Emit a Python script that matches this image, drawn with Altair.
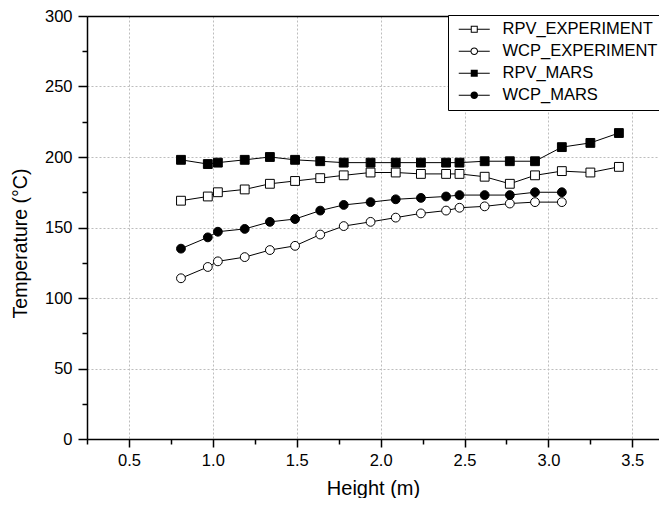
import altair as alt
import pandas as pd

# ---- data ----
series_order = ["RPV_EXPERIMENT", "WCP_EXPERIMENT", "RPV_MARS", "WCP_MARS"]

height_rpv = [0.81, 0.97, 1.03, 1.19, 1.34, 1.49, 1.64, 1.78, 1.94, 2.09,
              2.24, 2.39, 2.47, 2.62, 2.77, 2.92, 3.08, 3.25, 3.42]
rpv_experiment = [169, 172, 175, 177, 181, 183, 185, 187, 189, 189,
                  188, 188, 188, 186, 181, 187, 190, 189, 193]
rpv_mars = [198, 195, 196, 198, 200, 198, 197, 196, 196, 196,
            196, 196, 196, 197, 197, 197, 207, 210, 217]

height_wcp = [0.81, 0.97, 1.03, 1.19, 1.34, 1.49, 1.64, 1.78, 1.94, 2.09,
              2.24, 2.39, 2.47, 2.62, 2.77, 2.92, 3.08]
wcp_experiment = [114, 122, 126, 129, 134, 137, 145, 151, 154, 157,
                  160, 162, 164, 165, 167, 168, 168]
wcp_mars = [135, 143, 147, 149, 154, 156, 162, 166, 168, 170,
            171, 172, 173, 173, 173, 175, 175]

x_major = [0.5, 1.0, 1.5, 2.0, 2.5, 3.0, 3.5]
x_minor = [0.25, 0.75, 1.25, 1.75, 2.25, 2.75, 3.25]
y_major = [0, 50, 100, 150, 200, 250, 300]
y_minor = [25, 75, 125, 175, 225, 275]

rows = []
for name, xs, ys in [
    ("RPV_EXPERIMENT", height_rpv, rpv_experiment),
    ("WCP_EXPERIMENT", height_wcp, wcp_experiment),
    ("RPV_MARS", height_rpv, rpv_mars),
    ("WCP_MARS", height_wcp, wcp_mars),
]:
    for xv, yv in zip(xs, ys):
        rows.append({"series": name, "height": xv, "temp": yv})
df = pd.DataFrame(rows)

FONT = "Liberation Sans"

x_scale = alt.Scale(domain=[0.25, 3.659], nice=False, zero=False)
y_scale = alt.Scale(domain=[0, 300], nice=False, zero=False)

plain_shapes = ["square", "circle", "square", "circle"]
fills = ["white", "white", "black", "black"]

# legend glyphs "—□—", "—○—", "—■—", "—●—" drawn as filled paths (1 unit = 1 px at size 4)
sq_lines = "M-15.5,-0.6H-3.5V0.6H-15.5ZM3.5,-0.6H15.5V0.6H3.5Z"
ci_lines = "M-15.5,-0.6H-3.8V0.6H-15.5ZM3.8,-0.6H15.5V0.6H3.8Z"
open_sq = "M-3.5,-3.5H3.5V3.5H-3.5ZM-2.5,-2.5V2.5H2.5V-2.5Z"
full_sq = "M-3.5,-3.5H3.5V3.5H-3.5Z"
open_ci = "M3.8,0A3.8,3.8,0,1,1,-3.8,0A3.8,3.8,0,1,1,3.8,0ZM2.8,0A2.8,2.8,0,1,0,-2.8,0A2.8,2.8,0,1,0,2.8,0Z"
full_ci = "M3.8,0A3.8,3.8,0,1,1,-3.8,0A3.8,3.8,0,1,1,3.8,0Z"
legend_shapes = [sq_lines + open_sq, ci_lines + open_ci,
                 sq_lines + full_sq, ci_lines + full_ci]

base = alt.Chart(df)

lines = base.mark_line(color="black", strokeWidth=1).encode(
    x=alt.X("height:Q", scale=x_scale,
            axis=alt.Axis(orient="bottom", values=x_major, format=".1f",
                          title="Height (m)", titleFont=FONT, titleFontSize=20,
                          titleFontWeight="normal", titleColor="black", titlePadding=10,
                          labelFont=FONT, labelFontSize=16.5, labelColor="black",
                          labelPadding=5, tickSize=8, tickWidth=1.5, tickColor="black",
                          domainColor="black", domainWidth=1.5,
                          grid=True, gridDash=[2, 2], gridColor="#bdbdbd", gridWidth=1)),
    y=alt.Y("temp:Q", scale=y_scale,
            axis=alt.Axis(orient="left", values=y_major, format="d",
                          title="Temperature (°C)", titleFont=FONT, titleFontSize=19.5,
                          titleFontWeight="normal", titleColor="black", titlePadding=14,
                          titleY=227,
                          labelFont=FONT, labelFontSize=16.5, labelColor="black",
                          labelPadding=6, tickSize=9, tickWidth=1.5, tickColor="black",
                          domainColor="black", domainWidth=1.5,
                          grid=True, gridDash=[2, 2], gridColor="#bdbdbd", gridWidth=1)),
    detail="series:N",
)

points = base.mark_point(size=78, stroke="black", strokeWidth=1, opacity=1).encode(
    x=alt.X("height:Q", scale=x_scale,
            axis=alt.Axis(orient="bottom", values=x_minor, labels=False, domain=False,
                          grid=False, title=None, tickSize=5, tickWidth=1.5,
                          tickColor="black")),
    y=alt.Y("temp:Q", scale=y_scale,
            axis=alt.Axis(orient="left", values=y_minor, labels=False, domain=False,
                          grid=False, title=None, tickSize=5, tickWidth=1.5,
                          tickColor="black")),
    shape=alt.Shape("series:N", scale=alt.Scale(domain=series_order, range=plain_shapes),
                    legend=None),
    fill=alt.Fill("series:N", scale=alt.Scale(domain=series_order, range=fills),
                  legend=None),
)

legend_layer = base.transform_filter("false").mark_point(
    size=4, filled=True, color="black", opacity=1
).encode(
    x=alt.X("height:Q", scale=x_scale,
            axis=alt.Axis(orient="top", domain=True, domainColor="black", domainWidth=1.5,
                          ticks=False, labels=False, grid=False, title=None)),
    y=alt.Y("temp:Q", scale=y_scale, axis=None),
    shape=alt.Shape("series:N", scale=alt.Scale(domain=series_order, range=legend_shapes),
                    legend=alt.Legend(orient="none", legendX=361, legendY=-1, title=None,
                                      padding=6, strokeColor="black", fillColor="white",
                                      labelFont=FONT, labelFontSize=16.5, labelColor="black",
                                      symbolSize=4, symbolOffset=12, labelOffset=20,
                                      rowPadding=5, symbolFillColor="black",
                                      symbolStrokeWidth=0, cornerRadius=0,
                                      labelLimit=400)),
)

chart = alt.layer(lines, points, legend_layer).resolve_axis(
    x="independent", y="independent"
).resolve_scale(
    shape="independent", fill="independent"
).properties(
    width=572, height=423,
    autosize=alt.AutoSizeParams(type="none"),
    padding={"left": 79, "top": 8, "right": 0, "bottom": 59},
).configure_view(stroke=None).configure(background="white")

chart.save("out.html", embed_options={"renderer": "svg", "actions": False})
